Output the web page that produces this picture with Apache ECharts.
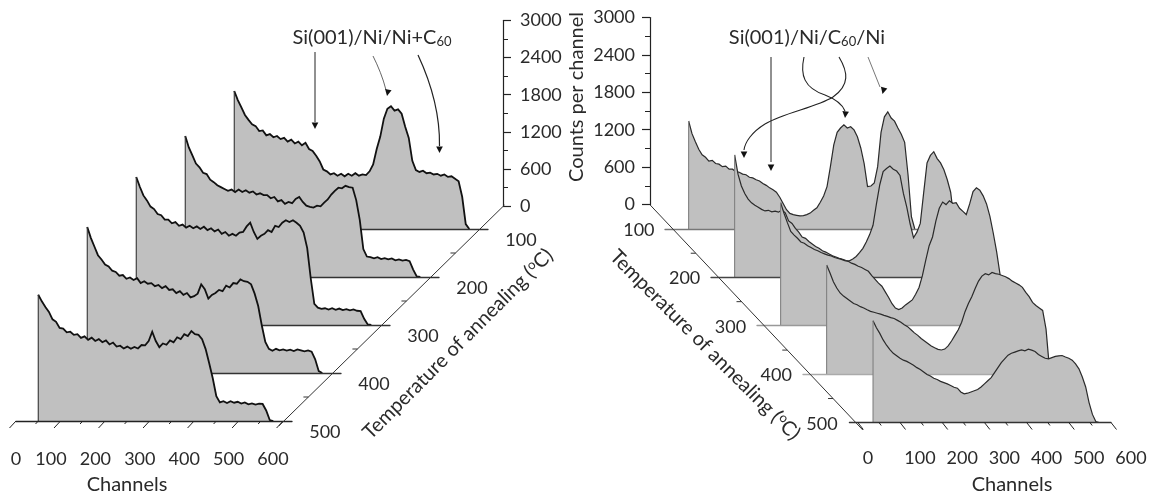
<!DOCTYPE html>
<html><head><meta charset="utf-8">
<style>html,body{margin:0;padding:0;background:#fff}#c{width:1150px;height:498px}</style>
<script src="https://cdn.jsdelivr.net/npm/echarts@6/dist/echarts.min.js"></script>
</head><body><div id="c"></div>
<script>
// ---------- data ----------
const temperatures = [100, 200, 300, 400, 500];
const depthMinorTicks = [150, 250, 350, 450];
const channelTicks = [0, 100, 200, 300, 400, 500, 600];
const channelMinorTicks = [50, 150, 250, 350, 450, 550];

const channelsLeft = [50,58,66,74,82,90,98,106,114,122,130,138,146,154,162,170,178,186,194,202,210,218,226,234,242,250,258,266,274,282,290,298,306,314,322,330,338,346,354,362,370,378,386,394,402,410,418,426,434,442,450,458,466,474,482,490,498,506,514,522,530,538,546,554,562,570,578];
const left100 = [2226,2080,1960,1840,1760,1690,1660,1580,1590,1510,1530,1480,1500,1450,1470,1410,1440,1380,1410,1350,1390,1290,1260,1180,1090,960,930,880,900,860,890,850,890,860,900,860,880,870,930,1040,1290,1490,1780,1940,1980,1910,1930,1860,1650,1470,1100,950,920,940,900,910,880,890,860,880,840,850,810,770,520,80,0];
const left200 = [2274,2090,1960,1830,1770,1680,1660,1570,1530,1480,1450,1420,1390,1410,1370,1410,1370,1400,1360,1380,1330,1350,1320,1320,1270,1290,1220,1240,1180,1210,1190,1260,1290,1210,1150,1130,1120,1150,1140,1200,1250,1330,1390,1440,1430,1470,1450,1440,1240,920,450,330,320,300,320,290,305,285,300,270,285,265,275,255,120,10,0];
const left300 = [2387,2230,2090,2010,1910,1870,1790,1770,1700,1700,1640,1660,1600,1620,1570,1600,1560,1590,1550,1585,1530,1560,1510,1540,1470,1500,1440,1470,1440,1490,1500,1590,1650,1500,1390,1440,1470,1530,1500,1600,1580,1650,1690,1660,1690,1650,1600,1490,1240,750,340,280,260,270,250,270,245,265,240,255,235,250,230,225,100,10,0];
const left400 = [2355,2180,2040,1900,1830,1750,1720,1650,1630,1570,1580,1520,1540,1500,1530,1450,1480,1440,1450,1400,1420,1370,1400,1340,1350,1290,1320,1260,1290,1220,1240,1280,1430,1350,1200,1260,1290,1340,1320,1410,1380,1450,1440,1510,1480,1470,1430,1280,1080,770,500,390,360,390,365,380,360,375,355,380,365,350,365,345,220,30,0];
const left500 = [2037,1930,1840,1760,1640,1600,1500,1490,1430,1440,1390,1400,1340,1365,1310,1345,1290,1320,1270,1300,1235,1265,1200,1215,1170,1200,1165,1195,1170,1225,1220,1290,1440,1290,1190,1250,1230,1300,1270,1350,1320,1400,1370,1450,1400,1390,1320,1160,930,690,400,300,320,290,320,295,310,280,300,270,285,265,280,275,170,15,0];

const channelsRight = [36,44,52,60,68,76,84,92,100,108,116,124,132,140,148,156,164,172,180,188,196,204,212,220,228,236,244,252,260,268,276,284,292,300,308,316,324,332,340,348,356,364,372,380,388,396,404,412,420,428,436,444,452,460,468,476,484,492,500,508,516,524,532,540,548,556,564,572];
const right100 = [1733,1530,1400,1280,1190,1150,1090,1100,1050,1040,1000,1010,960,960,920,910,880,870,830,820,790,770,730,700,660,630,590,510,410,310,250,230,220,210,215,230,255,300,340,430,530,680,1000,1350,1550,1620,1670,1620,1640,1590,1480,1300,1050,680,690,740,1000,1550,1800,1880,1780,1730,1620,1520,1390,870,200,0];
const right200 = [1958,1650,1460,1340,1250,1190,1150,1120,1085,1060,1070,1045,1055,1040,1075,1030,900,860,780,720,640,620,570,530,490,460,420,400,370,340,320,300,285,265,260,290,330,390,460,560,680,830,1170,1480,1690,1740,1780,1730,1700,1630,1340,1120,850,630,720,860,1350,1830,1950,2010,1900,1830,1720,1560,1360,900,480,0];
const right300 = [1970,1800,1650,1510,1450,1400,1340,1320,1280,1250,1220,1200,1170,1150,1130,1115,1090,1075,1060,1040,1030,1000,980,950,930,900,870,800,740,680,630,540,450,350,280,255,280,330,370,410,500,610,800,1050,1280,1420,1680,1880,1980,1940,2000,1960,1970,1880,1830,1780,1950,2150,2210,2170,2080,1950,1750,1480,1180,820,260,20];
const right400 = [1750,1620,1480,1380,1300,1250,1210,1170,1130,1110,1080,1060,1030,1005,990,975,960,940,925,905,890,860,830,790,760,710,660,620,570,530,490,450,420,395,385,400,450,530,620,710,830,1000,1130,1240,1370,1490,1570,1610,1590,1630,1610,1600,1580,1560,1530,1490,1460,1430,1390,1310,1240,1150,1100,1060,1020,720,100,0];
const right500 = [1632,1520,1430,1325,1240,1170,1110,1070,1030,1000,980,950,920,880,850,810,770,745,710,690,660,640,620,595,565,550,490,460,470,490,510,530,570,620,670,720,800,880,960,1020,1080,1110,1130,1150,1165,1150,1175,1160,1140,1090,1060,1030,1020,1040,1060,1070,1075,1050,1030,1000,940,860,730,570,320,130,15,0];

const leftSeries = [left100, left200, left300, left400, left500];
const rightSeries = [right100, right200, right300, right400, right500];

// ---------- layout / style ----------
const FONT = 'Lato, "Open Sans", sans-serif', TXT = '#2a2a2a', FS = 18, FT = 20, FH = 20, FILL = '#c0c0c0';
const grids = [], xAxes = [], yAxes = [], series = [];

function addGrid(g, x, y) {
  grids.push(Object.assign({ containLabel: false }, g));
  const i = grids.length - 1;
  xAxes.push(Object.assign({ gridIndex: i, type: 'value', show: false }, x));
  yAxes.push(Object.assign({ gridIndex: i, type: 'value', show: false }, y));
  return i;
}
function spectrum(channels, vals, p, k) {
  const T = temperatures[k], base = p.base[k], zz = 10 + 2 * k;
  const i = addGrid(
    { left: p.x0[k], width: p.width, top: base - p.height, height: p.height },
    { show: true, min: p.xMin, max: p.xMax, z: zz + 1, splitLine: { show: false }, axisTick: { show: false }, axisLabel: { show: false },
      axisLine: { show: true, onZero: false, lineStyle: { color: p.baseColor[k], width: 1.3 } } },
    { min: 0, max: 3000, splitLine: { show: false } });
  const data = channels.map((c, j) => [c, vals[j]]);
  series.push({ type: 'line', name: p.name + ' ' + T, xAxisIndex: i, yAxisIndex: i, z: zz, data, showSymbol: false, symbol: 'none', clip: false,
    lineStyle: { color: p.line, width: p.lineWidth, join: 'miter' }, areaStyle: { color: FILL, opacity: 1 }, animation: false });
  series.push({ type: 'line', name: p.name + ' ' + T + ' edge', xAxisIndex: i, yAxisIndex: i, z: zz, symbol: 'none', clip: false, animation: false,
    data: [[channels[0], 0], [channels[0], vals[0]]], lineStyle: { color: p.edge, width: 1.1 } });
  return i;
}
function channelTickSeries(i, p) {
  const draw = (values, dx, dy) => series.push({
    type: 'custom', xAxisIndex: i, yAxisIndex: i, z: 40, silent: true, animation: false, clip: false,
    data: values.map(v => [v, 0]),
    renderItem: (ctx, api) => {
      const a = api.coord([api.value(0), 0]);
      return { type: 'line', shape: { x1: a[0], y1: a[1], x2: a[0] + dx, y2: a[1] + dy }, style: { stroke: '#222', lineWidth: 1 } };
    }
  });
  draw(channelTicks, p.tickDx, 7);
  draw(channelMinorTicks, p.tickDx / 2.4, 3);
}
function depthAxis(g, x, p) {
  const i = addGrid(g, x, { min: p.tMin, max: p.tMax, inverse: true, splitLine: { show: false } });
  series.push({ type: 'line', xAxisIndex: i, yAxisIndex: i, z: 42, symbol: 'none', animation: false, clip: false,
    data: [[p.tMin, p.tMin], [p.tMax, p.tMax]], lineStyle: { color: '#333', width: 1 } });
  series.push({ type: 'custom', xAxisIndex: i, yAxisIndex: i, z: 42, silent: true, animation: false, clip: false,
    data: depthMinorTicks.map(t => [t, t]),
    renderItem: (ctx, api) => {
      const a = api.coord([api.value(0), api.value(1)]);
      return { type: 'line', shape: { x1: a[0], y1: a[1], x2: a[0] - p.minorLen, y2: a[1] }, style: { stroke: '#333', lineWidth: 1 } };
    } });
  series.push({ type: 'custom', xAxisIndex: i, yAxisIndex: i, z: 42, silent: true, animation: false, clip: false,
    data: temperatures.map(t => [t, t]),
    renderItem: (ctx, api) => {
      const a = api.coord([api.value(0), api.value(1)]);
      return { type: 'text', x: a[0] + p.labelDx, y: a[1] + p.labelDy,
        style: { text: String(api.value(0)), fill: TXT, font: FS + 'px ' + FONT, align: 'center', verticalAlign: 'middle' } };
    } });
}
function labelAxis(left, width, top, zeroRich) {
  addGrid({ left, width, top, height: 1 },
    { show: true, min: 0, max: 600, interval: 100, axisLine: { show: false }, axisTick: { show: false }, splitLine: { show: false },
      axisLabel: { show: true, margin: 4, color: TXT, fontFamily: FONT, fontSize: FS, hideOverlap: false, showMinLabel: true, showMaxLabel: true,
        formatter: v => v === 0 ? '{z|0}' : String(v), rich: { z: zeroRich } } },
    { min: 0, max: 1, splitLine: { show: false } });
}

// Left panel
const pL = { name: 'Si(001)/Ni/Ni+C60', base: [229, 277, 325, 373, 421], x0: [212, 163, 114, 65, 16], width: 276, height: 186,
  xMin: 0, xMax: 620, baseColor: ['#333', '#333', '#333', '#333', '#222'], line: '#111', edge: '#333', lineWidth: 1.8, tickDx: -6.5 };
let frontL;
leftSeries.forEach((v, k) => { const i = spectrum(channelsLeft, v, pL, k); if (k === 4) frontL = i; });
channelTickSeries(frontL, pL);
// Right panel
const pR = { name: 'Si(001)/Ni/C60/Ni', base: [229, 277, 325.5, 374, 422.5], x0: [665, 711, 757, 803, 849.4], width: 261.6, height: 187,
  xMin: -20, xMax: 600, baseColor: ['#777', '#444', '#999', '#aaa', '#333'], line: '#2a2a2a', edge: '#808080', lineWidth: 1.2, tickDx: 5.5 };
let frontR;
rightSeries.forEach((v, k) => { const i = spectrum(channelsRight, v, pR, k); if (k === 4) frontR = i; });
channelTickSeries(frontR, pR);

// Counts axes
const countLabel = extra => Object.assign({ color: TXT, fontFamily: FONT, fontSize: FS, showMinLabel: true, showMaxLabel: true, hideOverlap: false, formatter: v => String(v) }, extra);
const countAxis = extra => Object.assign({ show: true, min: 0, max: 3000, interval: 600,
  axisLine: { show: true, onZero: false, lineStyle: { color: '#222', width: 1.2 } },
  axisTick: { show: true, length: 8, lineStyle: { color: '#222', width: 1.2 } },
  minorTick: { show: true, splitNumber: 2, length: 5, lineStyle: { color: '#222', width: 1 } },
  splitLine: { show: false }, minorSplitLine: { show: false } }, extra);
addGrid({ left: 503, width: 8, top: 20.5, height: 185.5 }, { min: 0, max: 1 },
  countAxis({ position: 'left', axisTick: { show: true, inside: true, length: 8, lineStyle: { color: '#222', width: 1.2 } },
    minorTick: { show: true, splitNumber: 2, length: 5, lineStyle: { color: '#222', width: 1 } },
    axisLabel: countLabel({ inside: true, margin: 17 }) }));
addGrid({ left: 650, width: 8, top: 17.5, height: 187 }, { min: 0, max: 1 },
  countAxis({ position: 'left', axisLabel: countLabel({ margin: 15 }) }));

// Depth axes
depthAxis({ left: 279, width: 225.5, top: 205, height: 220.8 }, { min: 50, max: 510, inverse: true, splitLine: { show: false } },
  { tMin: 50, tMax: 510, minorLen: 5, labelDx: 41, labelDy: 11 });
depthAxis({ left: 650, width: 212.8, top: 204.8, height: 225.2 }, { min: 50, max: 515, splitLine: { show: false } },
  { tMin: 50, tMax: 515, minorLen: 5, labelDx: -34, labelDy: 1 });

// Channel labels
labelAxis(6.6, 266.4, 445, { padding: [0, 0, 0, 18.8], fontSize: FS, fontFamily: FONT, color: TXT });
labelAxis(877.8, 253.2, 444, { padding: [0, 19.6, 0, 0], fontSize: FS, fontFamily: FONT, color: TXT });

// Annotations
const rich = fs => ({ a: { fontSize: fs, fontFamily: FONT, fill: TXT, color: TXT },
  sub: { fontSize: fs * 0.65, fontFamily: FONT, color: TXT, fill: TXT, verticalAlign: 'bottom', padding: [8, 0, 0, 0] },
  sup: { fontSize: fs * 0.65, fontFamily: FONT, color: TXT, fill: TXT, verticalAlign: 'top', padding: [0, 0, 8, 0] } });
function label(text, x, y, rotation, fs) {
  return { type: 'text', x, y, rotation: rotation || 0, z: 100,
    style: { text, rich: rich(fs), font: fs + 'px ' + FONT, fill: TXT, align: 'center', verticalAlign: 'middle' } };
}
function head(x, y, angle, size, color) {
  return { type: 'polygon', z: 100, x, y, rotation: angle,
    shape: { points: [[0, 0], [-size * 0.55, -size * 1.1], [size * 0.55, -size * 1.1]] }, style: { fill: color } };
}
function seg(x1, y1, x2, y2, cx1, cy1, cx2, cy2, color, w) {
  return { type: 'bezierCurve', z: 100, shape: { x1, y1, x2, y2, cpx1: cx1, cpy1: cy1, cpx2: cx2, cpy2: cy2 }, style: { stroke: color, lineWidth: w, fill: null } };
}
function straight(x1, y1, x2, y2, color, w) {
  return { type: 'line', z: 100, shape: { x1, y1, x2, y2 }, style: { stroke: color, lineWidth: w } };
}
const graphics = [
  label('{a|Si(001)/Ni/Ni+C}{sub|60}', 372, 38, 0, FH),
  label('{a|Si(001)/Ni/C}{sub|60}{a|/Ni}', 807, 38, 0, FH),
  label('Channels', 127, 485, 0, FT),
  label('Channels', 1012, 485, 0, FT),
  label('Counts per channel', 577, 97, Math.PI / 2, FT),
  label('{a|Temperature of annealing (}{sup|o}{a|C)}', 458, 344, Math.PI / 4, FT),
  label('{a|Temperature of annealing (}{sup|o}{a|C)}', 705, 345, -Math.PI / 4, FT),
  // left arrows
  straight(315, 52, 315, 122, '#222', 1), head(315, 129, 0, 6, '#111'),
  seg(373, 56, 386, 90, 378, 66, 383, 78, '#666', 1), head(387, 96, -0.2, 6, '#111'),
  seg(418, 55, 439.5, 146, 432, 85, 440, 115, '#222', 1.2), head(439.5, 153, 0, 6, '#111'),
  // right arrows
  straight(771, 57, 771, 162, '#222', 1), head(771, 171, 0, 6, '#111'),
  seg(839, 57, 833, 97, 848, 72, 850, 85, '#222', 1.1),
  seg(833, 97, 765, 124, 815, 108, 785, 112, '#222', 1.1),
  seg(765, 124, 744, 150, 752, 132, 745, 142, '#222', 1.1), head(744, 158, 0, 6, '#111'),
  seg(804, 57, 825, 95, 800, 75, 804, 88, '#222', 1.1),
  seg(825, 95, 845, 111, 838, 100, 843, 106, '#222', 1.1), head(845, 118, -0.1, 6, '#111'),
  straight(868, 57, 880, 87, '#777', 1), head(882.5, 94, -0.25, 6, '#111')
];

const chart = echarts.init(document.getElementById('c'));
chart.setOption({ backgroundColor: '#fff', animation: false, tooltip: { show: false }, legend: { show: false },
  grid: grids, xAxis: xAxes, yAxis: yAxes, series, graphic: { elements: graphics } });
</script></body></html>
